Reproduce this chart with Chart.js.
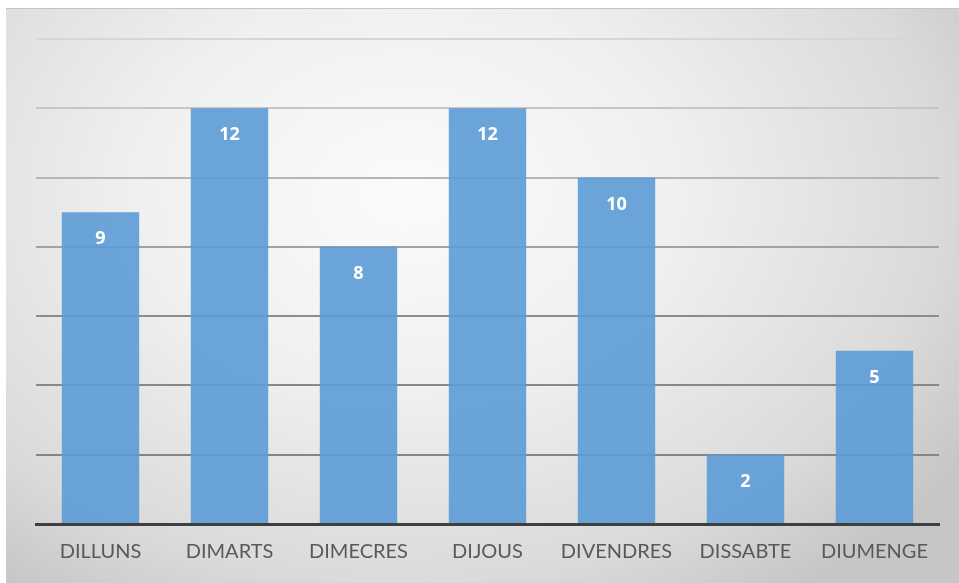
<!DOCTYPE html>
<html>
<head>
<meta charset="utf-8">
<script src="https://cdn.jsdelivr.net/npm/chart.js@4"></script>
<style>
  html, body { margin: 0; padding: 0; background: #fff; }
  #wrap {
    position: absolute; left: 6px; top: 8px; width: 953px; height: 575px;
    border-top: 1px solid #c4c4c4;
    box-sizing: border-box;
    background: radial-gradient(ellipse 70% 85% at 42% 32%, #fbfbfb 0%, #f0f0f0 40%, #dadada 80%, #c6c6c6 100%);
  }
</style>
</head>
<body>
<div id="wrap"><canvas id="myChart" width="953" height="574"></canvas></div>
<script>
"use strict";

var days = ['DILLUNS', 'DIMARTS', 'DIMECRES', 'DIJOUS', 'DIVENDRES', 'DISSABTE', 'DIUMENGE'];
var counts = [9, 12, 8, 12, 10, 2, 5];
var yTicks = [0, 2, 4, 6, 8, 10, 12, 14];

var gridColors = {14: '#d6d6d6', 12: '#c6c6c6', 10: '#b6b6b6', 8: '#a2a2a2', 6: '#8c8c8c', 4: '#888888', 2: '#858585', 0: 'rgba(0,0,0,0)'};

// white numbers near the top of each bar
var barLabels = {
    id: 'barLabels',
    afterDatasetsDraw: function(chart) {
        var ctx = chart.ctx;
        var meta = chart.getDatasetMeta(0);
        ctx.save();
        ctx.fillStyle = '#ffffff';
        ctx.font = 'bold 18px "Open Sans", sans-serif';
        ctx.textAlign = 'center';
        ctx.textBaseline = 'middle';
        meta.data.forEach(function(bar, i) {
            ctx.fillText(String(counts[i]), bar.x, bar.y + 27);
        });
        ctx.restore();
    }
};

var myChart1 = document.getElementById('myChart').getContext('2d');

var dayChart = new Chart(myChart1, {
    type: 'bar',
    data: {
        labels: days,
        datasets: [{
            data: counts,
            backgroundColor: 'rgba(91,155,213,0.9)',
            borderWidth: 0,
            categoryPercentage: 1,
            barPercentage: 0.6
        }]
    },
    options: {
        responsive: false,
        animation: false,
        layout: { padding: { left: 30, right: 20, top: 30, bottom: 3 } },
        plugins: {
            legend: { display: false },
            tooltip: { enabled: false }
        },
        scales: {
            x: {
                grid: { display: false, drawTicks: false },
                border: { display: true, color: '#3f3f3f', width: 3 },
                ticks: {
                    color: '#595959',
                    padding: 16,
                    font: { family: 'Lato, "Open Sans", sans-serif', size: 20 }
                }
            },
            y: {
                min: yTicks[0],
                max: yTicks[yTicks.length - 1],
                afterBuildTicks: function(axis) {
                    axis.ticks = yTicks.map(function(v) { return { value: v }; });
                },
                ticks: { display: false },
                border: { display: false },
                grid: {
                    drawTicks: false,
                    lineWidth: 2,
                    color: function(c) { return gridColors[c.tick.value]; }
                }
            }
        }
    },
    plugins: [barLabels]
});
</script>
</body>
</html>
